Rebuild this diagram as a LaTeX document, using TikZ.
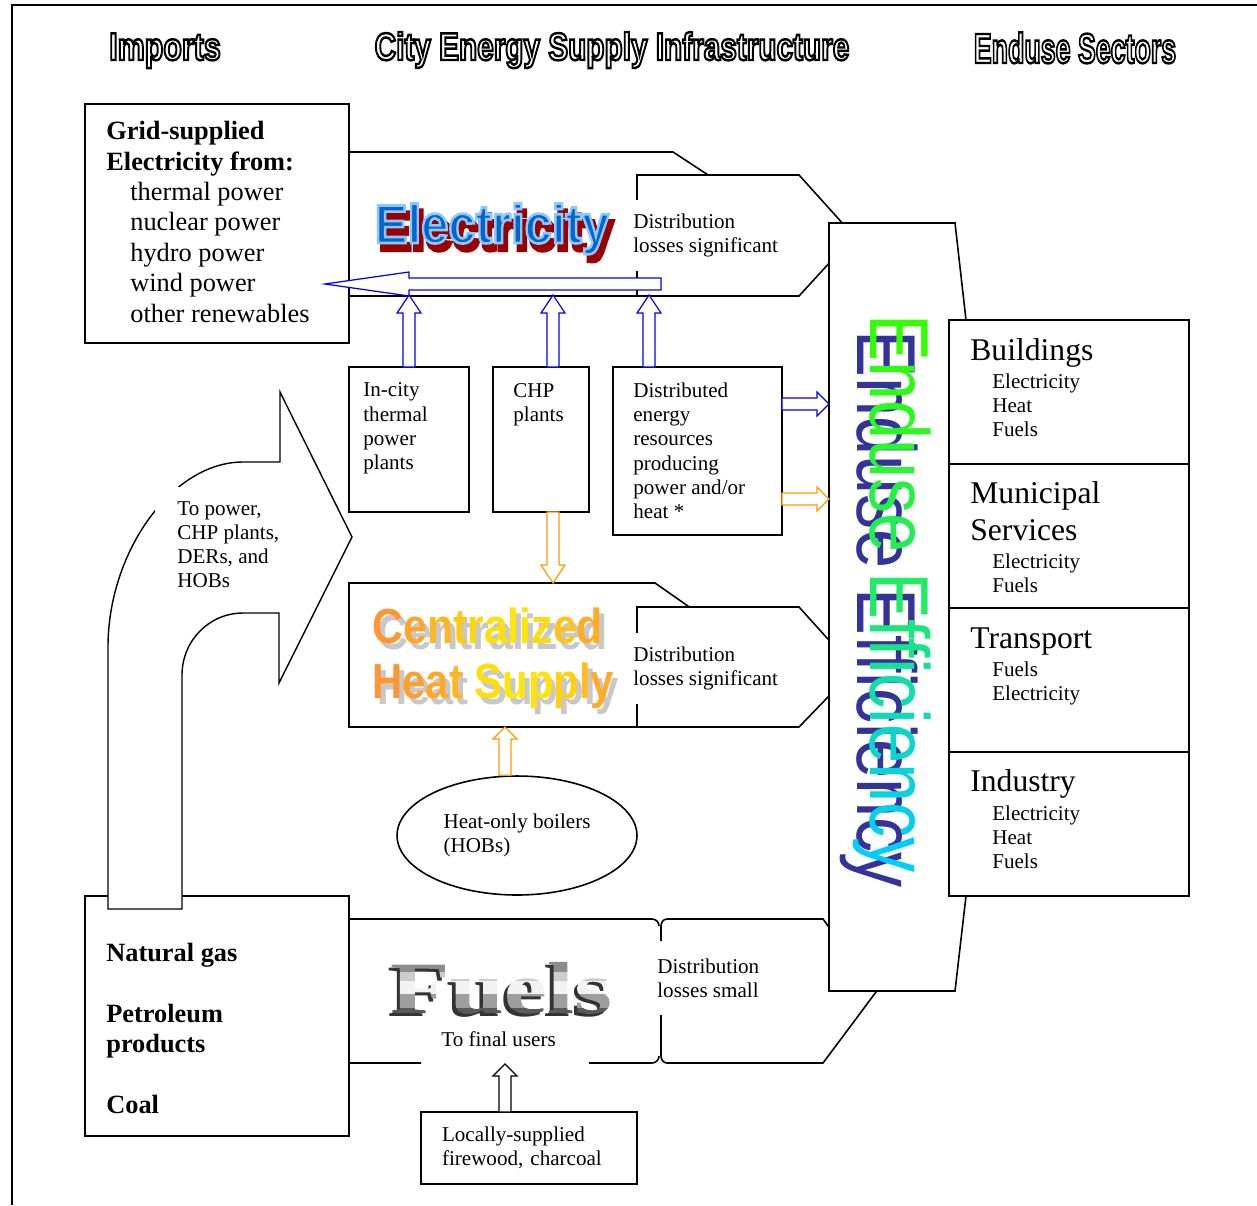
\documentclass[tikz,border=0pt]{standalone}
\usepackage{fontspec}
\setmainfont{Liberation Serif}
\newfontfamily\artfont{Liberation Sans}
\usepackage{xcolor}
\usepackage{graphicx}
\usetikzlibrary{arrows.meta, calc, positioning, shapes.geometric}

\definecolor{arrblue}{RGB}{0,0,255}
\definecolor{arrorange}{RGB}{255,153,0}
\definecolor{elecblue}{RGB}{0,102,204}
\definecolor{elecshadow}{RGB}{153,0,0}
\definecolor{heatorange}{RGB}{255,150,50}
\definecolor{heatyellow}{RGB}{255,240,0}
\definecolor{heatshadow}{RGB}{200,200,200}
\definecolor{effnavy}{RGB}{51,51,153}
\definecolor{effgreen}{RGB}{51,255,0}
\definecolor{effcyan}{RGB}{0,204,255}

\begin{document}
\begin{tikzpicture}[x=0.02cm, y=-0.02cm,
        box/.style={draw, line width=0.9pt, fill=white, inner sep=0pt, outer sep=0pt, anchor=north west},
        band/.style={draw, line width=0.9pt, fill=white},
        txt/.style={align=left, inner sep=0pt, anchor=north west, font=\fontsize{12}{13.8}\selectfont},
        bigtxt/.style={txt, font=\fontsize{15}{17.3}\selectfont},
        sectortxt/.style={txt, font=\fontsize{18}{21}\selectfont},
        dist/.style={txt, anchor=west, fill=white, inner xsep=0.04cm, inner ysep=0.28cm},
        header/.style={anchor=base, inner sep=0pt, font=\artfont\bfseries\fontsize{22}{22}\selectfont},
        art/.style={anchor=base west, inner sep=0pt, font=\artfont\bfseries\fontsize{28}{28}\selectfont},
        effart/.style={rotate=-90, anchor=base west, inner sep=0pt, font=\artfont\fontsize{40}{40}\selectfont},
        hollow/.style={line width=0.7pt, fill=white, to path={
            let \p1=(\tikztostart), \p2=(\tikztotarget), \p3=($(\p2)!#1!(\p1)$) in
            ($(\p1)!0.12cm!90:(\p2)$) -- ($(\p3)!0.12cm!90:(\p2)$) -- ($(\p3)!0.24cm!90:(\p2)$) -- (\p2)
            -- ($(\p3)!0.24cm!-90:(\p2)$) -- ($(\p3)!0.12cm!-90:(\p2)$) -- ($(\p1)!0.12cm!-90:(\p2)$) -- cycle}},
        hollow/.default=0.36cm]
    \useasboundingbox (0,0) rectangle (1257,1205);
    % Cornice
    \draw[line width=0.8pt] (12,1205) -- (12,5) -- (1257,5);
    % Titoli delle colonne (solo contorno)
    \node[header] (hdrimp) at (165,60) {\scalebox{0.787}[1]{\special{pdf:literal direct 0 G 1 Tr 1.4 w}Imports\special{pdf:literal direct 0 Tr}}};
    \node[header] (hdrcity) at (612,60) {\scalebox{0.77}[1]{\special{pdf:literal direct 0 G 1 Tr 1.4 w}City Energy Supply Infrastructure\special{pdf:literal direct 0 Tr}}};
    \node[header, font=\artfont\bfseries\fontsize{24}{24}\selectfont] (hdrend) at (1075,63) {\scalebox{0.635}[1]{\special{pdf:literal direct 0 G 1 Tr 1.4 w}Enduse Sectors\special{pdf:literal direct 0 Tr}}};
    % Fascia elettricita
    \draw[band] (349,152) -- (673,152) -- (783,224) -- (673,296) -- (349,296) -- cycle;
    \draw[band] (637,175) -- (799,175) -- (854,236) -- (799,296) -- (637,296) -- cycle;
    \node[dist] (elecloss) at (631,235.5) {Distribution\\losses significant};
    \node[anchor=base, inner sep=0pt, font=\artfont\bfseries\fontsize{31}{31}\selectfont] (elecshad) at (496,250) {\scalebox{0.9}[1]{\color{elecshadow}\special{pdf:literal direct 0.6 0 0 RG 2 Tr 2.4 w}Electricity\special{pdf:literal direct 0 Tr}}};
    \node[anchor=base, inner sep=0pt, font=\artfont\bfseries\fontsize{31}{31}\selectfont] (elecart) at (492,243) {\scalebox{0.9}[1]{\color{elecblue}\special{pdf:literal direct 0.55 0.78 1 RG 2 Tr 1.5 w}Electricity\special{pdf:literal direct 0 Tr}}};
    % Importazioni di elettricita
    \node[box, minimum width=5.28cm, minimum height=4.78cm] (grid) at (85,104) {};
    \node[bigtxt] (gridtxt) at (106,121) {\textbf{Grid-supplied}\\\textbf{Electricity from:}\\\hspace*{0.48cm}thermal power\\\hspace*{0.48cm}nuclear power\\\hspace*{0.48cm}hydro power\\\hspace*{0.48cm}wind power\\\hspace*{0.48cm}other renewables};
    % Fascia calore
    \draw[band] (349,583) -- (655,583) -- (758,655) -- (655,727) -- (349,727) -- cycle;
    \draw[band] (637,607) -- (799,607) -- (855,669) -- (799,727) -- (637,727) -- cycle;
    \node[dist] (heatloss) at (631,668.5) {Distribution\\losses significant};
    \node[art, text=heatshadow] (heatshad1) at (377,649) {\scalebox{0.87}[1]{Centralized}};
    \node[art, text=heatshadow] (heatshad2) at (377,704) {\scalebox{0.85}[1]{Heat Supply}};
    \node[art] (heatart1) at (372,643) {\scalebox{0.87}[1]{{\color{heatyellow!0!heatorange}C}{\color{heatyellow!15!heatorange}e}{\color{heatyellow!35!heatorange}n}{\color{heatyellow!55!heatorange}t}{\color{heatyellow!70!heatorange}r}{\color{heatyellow!80!heatorange}a}{\color{heatyellow!90!heatorange}l}{\color{heatyellow!90!heatorange}i}{\color{heatyellow!75!heatorange}z}{\color{heatyellow!50!heatorange}e}{\color{heatyellow!25!heatorange}d}}};
    \node[art] (heatart2) at (372,698) {\scalebox{0.85}[1]{{\color{heatyellow!0!heatorange}H}{\color{heatyellow!10!heatorange}e}{\color{heatyellow!20!heatorange}a}{\color{heatyellow!35!heatorange}t} {\color{heatyellow!80!heatorange}S}{\color{heatyellow!90!heatorange}u}{\color{heatyellow!85!heatorange}p}{\color{heatyellow!65!heatorange}p}{\color{heatyellow!45!heatorange}l}{\color{heatyellow!25!heatorange}y}}};
    % Fascia combustibili
    \draw[line width=0.9pt] (421,1063) -- (349,1063) -- (349,919) -- (652,919) to[out=0,in=90] (659,926);
    \draw[line width=0.9pt] (589,1063) -- (652,1063) to[out=0,in=-90] (659,1056);
    \draw[band] (661,926) to[out=90,in=180] (667,919) -- (823,919) -- (876,992) -- (823,1063) -- (667,1063) to[out=180,in=-90] (661,1056) -- cycle;
    \node[dist, inner ysep=0.345cm] (fuelloss) at (655,978) {Distribution\\losses small};
    \node[anchor=base, inner sep=0pt, font=\bfseries\fontsize{42}{42}\selectfont, text=black!80] (fuelshad) at (498,1016) {\scalebox{1.32}[1]{Fuels}};
    % lettere metalliche: testo come ritaglio, poi strisce grigie
    \node[anchor=base, inner sep=0pt, font=\bfseries\fontsize{42}{42}\selectfont] (fuelart) at (501,1013) {\scalebox{1.32}[1]{\special{pdf:literal direct 7 Tr}Fuels\special{pdf:literal direct 0 Tr}\special{pdf:content 0.35 g -105 -15 110 18 re f 0.62 g -105 3 110 8 re f 0.95 g -105 11 110 7 re f 0.8 g -105 18 110 5 re f 0.55 g -105 23 110 14 re f}}};
    \node[txt] (fueluse) at (441,1031.5) {To final users};
    % Impianti in citta
    \node[box, minimum width=2.4cm, minimum height=2.9cm] (inc) at (349,367) {};
    \node[txt] (inctxt) at ($(inc.north west)+(14,15.5)$) {In-city\\thermal\\power\\plants};
    \node[box, minimum width=1.92cm, minimum height=2.9cm] (chp) at (493,367) {};
    \node[txt] (chptxt) at ($(chp.north west)+(20,16)$) {CHP\\plants};
    \node[box, minimum width=3.38cm, minimum height=3.36cm] (der) at (613,367) {};
    \node[txt] (dertxt) at ($(der.north west)+(20,15.5)$) {Distributed\\energy\\resources\\producing\\power and/or\\heat *};
    % Caldaie e combustibili locali
    \node[draw, ellipse, line width=0.9pt, fill=white, minimum width=4.8cm, minimum height=2.38cm, inner sep=0pt, align=left, font=\fontsize{12}{13.8}\selectfont] (hob) at (517,835.5) {Heat-only boilers\\(HOBs)};
    \node[box, minimum width=4.32cm, minimum height=1.44cm, text width=3.48cm, inner xsep=0.42cm, align=left, font=\fontsize{12}{13.8}\selectfont] (local) at (421,1112) {Locally-supplied\\firewood, charcoal};
    % Importazioni di combustibili
    \node[box, minimum width=5.28cm, minimum height=4.8cm] (imports) at (85,896) {};
    \node[bigtxt] (importstxt) at (106,943) {\textbf{Natural gas}\\[17.3pt]\textbf{Petroleum}\\\textbf{products}\\[17.3pt]\textbf{Coal}};
    \draw[band, line width=0.8pt] (108,909) -- (108,647) .. controls (108,552) and (172,462) .. (243,462) -- (280,462) -- (280,392) -- (352,537) -- (279,683) -- (279,613) -- (243,613) .. controls (209,613) and (182,641) .. (182,675) -- (182,909) -- cycle;
    \node[txt, fill=white, inner xsep=0.44cm, inner ysep=0.28cm] (fueldir) at (155,487) {To power,\\CHP plants,\\DERs, and\\HOBs};
    % Efficienza negli usi finali
    \draw[band] (829,223) -- (955,223) -- (966,320) -- (966,896) -- (955,991) -- (829,991) -- cycle;
    \node[effart, text=effnavy] (effback) at (857,330) {\scalebox{1}[1.19]{Enduse Efficiency}};
    \node[effart] (efffront) at (870,314) {\scalebox{1}[1.19]{{\color{effcyan!0!effgreen}E}{\color{effcyan!7!effgreen}n}{\color{effcyan!13!effgreen}d}{\color{effcyan!20!effgreen}u}{\color{effcyan!27!effgreen}s}{\color{effcyan!33!effgreen}e} {\color{effcyan!40!effgreen}E}{\color{effcyan!47!effgreen}f}{\color{effcyan!53!effgreen}f}{\color{effcyan!60!effgreen}i}{\color{effcyan!67!effgreen}c}{\color{effcyan!73!effgreen}i}{\color{effcyan!80!effgreen}e}{\color{effcyan!87!effgreen}n}{\color{effcyan!93!effgreen}c}{\color{effcyan!100!effgreen}y}}};
    % Settori
    \node[box, minimum width=4.8cm, minimum height=2.88cm] (bld) at (949,320) {};
    \node[box, minimum width=4.8cm, minimum height=2.88cm] (mun) at (bld.south west) {};
    \node[box, minimum width=4.8cm, minimum height=2.88cm] (trn) at (mun.south west) {};
    \node[box, minimum width=4.8cm, minimum height=2.88cm] (ind) at (trn.south west) {};
    \node[sectortxt] (bldtit) at ($(bld.north west)+(21,18.3)$) {Buildings};
    \node[txt] (bldlist) at ($(bld.north west)+(43,53.5)$) {Electricity\\Heat\\Fuels};
    \node[sectortxt] (muntit) at ($(mun.north west)+(21,17.3)$) {Municipal\\Services};
    \node[txt] (munlist) at ($(mun.north west)+(43,89.5)$) {Electricity\\Fuels};
    \node[sectortxt] (trntit) at ($(trn.north west)+(21,19)$) {Transport};
    \node[txt] (trnlist) at ($(trn.north west)+(43,53.5)$) {Fuels\\Electricity};
    \node[sectortxt] (indtit) at ($(ind.north west)+(21,17.3)$) {Industry};
    \node[txt] (indlist) at ($(ind.north west)+(43,53.5)$) {Electricity\\Heat\\Fuels};
    % Punti di arrivo delle frecce
    \coordinate (incup) at (409,295);
    \coordinate (chpup) at (553,295);
    \coordinate (derup) at (649,295);
    \coordinate (elecfeed) at (661,284);
    \coordinate (gridtip) at (325,284);
    \coordinate (chpdown) at (553,583);
    \coordinate (heatfeed) at (505,727);
    \coordinate (fuelfeed) at (505,1064);
    \coordinate (effin1) at (829,404);
    \coordinate (effin2) at (829,499);
    % Frecce vuote
    \draw[hollow, draw=arrblue] (inc.north) to (incup);
    \draw[hollow, draw=arrblue] (chp.north -| chpup) to (chpup);
    \draw[hollow, draw=arrblue] (der.north -| derup) to (derup);
    \draw[hollow=1.68cm, draw=arrblue] (elecfeed) to (gridtip);
    \draw[hollow=0.24cm, draw=arrblue] (der.east |- effin1) to (effin1);
    \draw[hollow=0.24cm, draw=arrorange] (der.east |- effin2) to (effin2);
    \draw[hollow, draw=arrorange] (chp.south -| chpdown) to (chpdown);
    \draw[hollow=0.24cm, draw=arrorange] (hob.north -| heatfeed) to (heatfeed);
    \draw[hollow=0.24cm, draw=black] (local.north -| fuelfeed) to (fuelfeed);
\end{tikzpicture}
\end{document}
